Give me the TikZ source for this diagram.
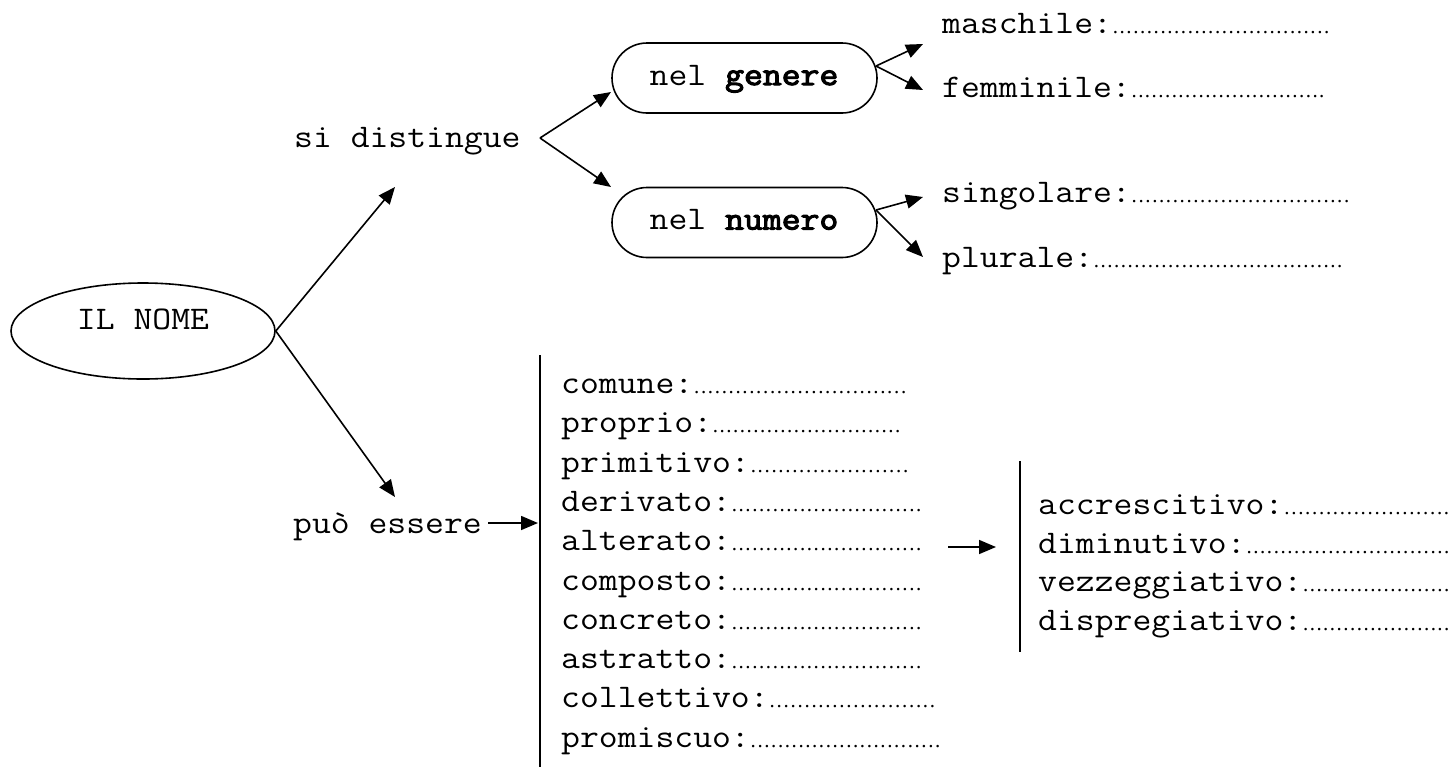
\documentclass[tikz,border=0pt]{standalone}
\usepackage{fontspec}
\setmainfont{Latin Modern Mono}[FakeStretch=1.11, AutoFakeBold=3.5]
\newfontfamily\dotfont{Liberation Serif}
\usetikzlibrary{arrows.meta,shapes.geometric}
\newcommand{\onedot}{\hbox to 6.7pt{\hss{\dotfont\fontsize{21}{24}\selectfont.}\hss}}
\newcommand{\fillline}[2]{\hbox to #1pt{#2\xleaders\onedot\hfill}}
\begin{document}
\begin{tikzpicture}[x=1pt,y=-1pt,
  font=\fontsize{33}{39}\selectfont,
  txt/.style={inner sep=0pt, anchor=base west},
  ctxt/.style={inner sep=0pt, anchor=base},
  ln/.style={line width=1.6pt},
  arr/.style={ln, -{Triangle[length=17pt,width=14pt]}},
  pill/.style={draw, ln, rectangle, rounded corners=35pt, minimum width=265pt, minimum height=70pt, inner sep=0pt}]
\useasboundingbox (0,0) rectangle (1453,769);

% main ellipse
\node[draw, ln, ellipse, minimum width=264pt, minimum height=96pt, inner sep=0pt] (nome) at (143,331) {};
\node[ctxt] (nomet) at (143,329) {IL NOME};

% labels
\node[txt] (dist) at (294,147) {si distingue};
\node[txt] (puo) at (293,533) {può essere};

% pills
\node[pill] (genere) at (744.5,78) {};
\node[ctxt] (generet) at (744,85) {nel \textbf{genere}};
\node[pill] (numero) at (744.5,222.5) {};
\node[ctxt] (numerot) at (744,229.5) {nel \textbf{numero}};

% top-right labels
\node[txt] (masc) at (942,33) {\fillline{388}{maschile:}};
\node[txt] (femm) at (942,97) {\fillline{383}{femminile:}};
\node[txt] (sing) at (942,202) {\fillline{408}{singolare:}};
\node[txt] (plur) at (942,267) {\fillline{401}{plurale:}};

% main list
\node[txt] (l1) at (561,393.5) {\fillline{346}{comune:}};
\node[txt] (l2) at (561,432.8) {\fillline{340}{proprio:}};
\node[txt] (l3) at (561,472.1) {\fillline{348}{primitivo:}};
\node[txt] (l4) at (561,511.4) {\fillline{361}{derivato:}};
\node[txt] (l5) at (561,550.7) {\fillline{361}{alterato:}};
\node[txt] (l6) at (561,590.0) {\fillline{361}{composto:}};
\node[txt] (l7) at (561,629.3) {\fillline{361}{concreto:}};
\node[txt] (l8) at (561,668.6) {\fillline{361}{astratto:}};
\node[txt] (l9) at (561,707.9) {\fillline{375}{collettivo:}};
\node[txt] (l10) at (561,747.2) {\fillline{380}{promiscuo:}};

% second list
\node[txt] (a1) at (1038,514.5) {\fillline{412}{accrescitivo:}};
\node[txt] (a2) at (1038,553.0) {\fillline{412}{diminutivo:}};
\node[txt] (a3) at (1038,591.5) {\fillline{412}{vezzeggiativo:}};
\node[txt] (a4) at (1038,630.0) {\fillline{412}{dispregiativo:}};

% coordinates
\coordinate (t1) at (395,187);
\coordinate (t2) at (395,497);
\coordinate (v) at (540,138);
\coordinate (vg) at (611,92);
\coordinate (vn) at (611,187);
\coordinate (g0) at (876,66);
\coordinate (gm) at (923,44);
\coordinate (gf) at (923,90);
\coordinate (n0) at (876,210);
\coordinate (ns) at (923,197);
\coordinate (np) at (923,257);
\coordinate (p0) at (488,523);
\coordinate (p1) at (538,523);
\coordinate (b0) at (540,355);
\coordinate (b1) at (540,767);
\coordinate (c0) at (1020,461);
\coordinate (c1) at (1020,652);
\coordinate (r0) at (948,547);
\coordinate (r1) at (996,547);

% connectors
\draw[arr] (nome.east) -- (t1);
\draw[arr] (nome.east) -- (t2);
\draw[arr] (v) -- (vg);
\draw[arr] (v) -- (vn);
\draw[arr] (g0) -- (gm);
\draw[arr] (g0) -- (gf);
\draw[arr] (n0) -- (ns);
\draw[arr] (n0) -- (np);
\draw[arr] (p0) -- (p1);
\draw[arr] (r0) -- (r1);
\draw[ln] (b0) -- (b1);
\draw[ln] (c0) -- (c1);
\end{tikzpicture}
\end{document}
